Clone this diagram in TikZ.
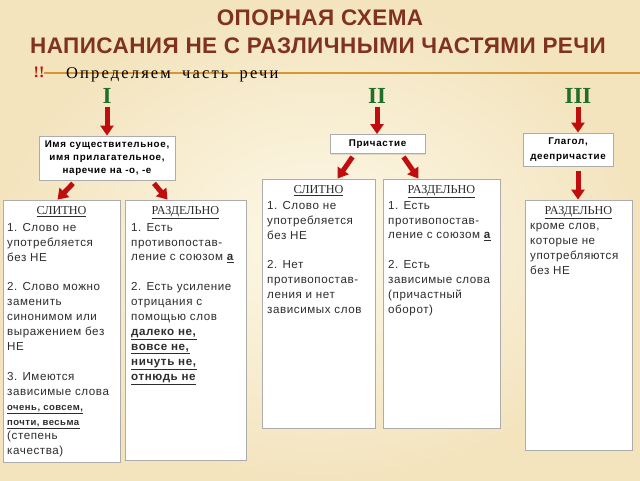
\documentclass[tikz,border=0pt]{standalone}
\usepackage{fontspec}
\setmainfont{Liberation Serif}
\setsansfont{Liberation Sans}
\newfontfamily\bodyfont[LetterSpace=5]{Liberation Sans}
\newfontfamily\boxfont[LetterSpace=7]{Liberation Sans}
\newfontfamily\titlefont[LetterSpace=2]{Liberation Sans}
\newfontfamily\taskfont[LetterSpace=13,WordSpace=1.8]{Liberation Serif}
\usetikzlibrary{arrows.meta,shadows}
\definecolor{bgin}{RGB}{253,248,232}
\definecolor{bgout}{RGB}{243,228,190}
\definecolor{titlecol}{RGB}{128,50,32}
\definecolor{romancol}{RGB}{32,110,40}
\definecolor{arrowcol}{RGB}{192,14,14}
\definecolor{rulecol}{RGB}{214,150,50}
\definecolor{textcol}{RGB}{45,45,45}
\newcommand\KeyWord[1]{\underline{\textbf{#1}}}

\begin{document}
\begin{tikzpicture}[x=1pt,y=-1pt,
  card/.style={draw=gray!65,fill=white,line width=0.8pt,inner sep=0pt,
    drop shadow={opacity=0.2,shadow xshift=1.2pt,shadow yshift=-1.2pt}},
  cardhead/.style={font=\fontsize{12.2}{13}\selectfont,text=textcol,inner sep=0pt,anchor=north},
  cardbody/.style={font=\bodyfont\fontsize{11.6}{14.9}\selectfont,text=textcol,align=left,inner sep=0pt,anchor=north west},
  partbox/.style={card,font=\boxfont\bfseries\fontsize{9.8}{13}\selectfont,align=center},
  roman/.style={font=\bfseries\fontsize{23}{23}\selectfont,text=romancol,inner sep=0pt},
  redarrow/.style={draw=arrowcol,line width=5pt,-{Triangle[width=13pt,length=10pt]}}]
% Drawing background
\shade[inner color=bgin,outer color=bgout] (0,0) rectangle (640,480);
\useasboundingbox (0,0) rectangle (640,480);
\draw[rulecol,line width=1.1pt] (44,73) -- (640,73);
% Title
\node[font=\titlefont\bfseries\fontsize{22.5}{22.5}\selectfont,text=titlecol] (title1) at (320,18) {ОПОРНАЯ СХЕМА};
\node[font=\titlefont\bfseries\fontsize{22.5}{22.5}\selectfont,text=titlecol] (title2) at (318,46) {НАПИСАНИЯ НЕ С РАЗЛИЧНЫМИ ЧАСТЯМИ РЕЧИ};
\node[font=\bfseries\fontsize{16}{16}\selectfont,text=arrowcol,inner sep=0pt] (mark) at (39,72) {!!};
\node[font=\taskfont\fontsize{16.5}{16.5}\selectfont,anchor=base west,inner sep=0pt] (task) at (66,78) {Определяем часть речи};
% Done with title; drawing part-of-speech groups
\node[roman] (n1) at (107,96) {I};
\node[roman] (n2) at (377,96) {II};
\node[roman] (n3) at (578,96) {III};
\node[partbox,minimum width=136pt,minimum height=44pt] (a1) at (107,158)
  {Имя существительное,\\имя прилагательное,\\наречие на -о, -е};
\node[partbox,minimum width=95pt,minimum height=19pt] (b1) at (377.5,144) {Причастие};
\node[partbox,minimum width=90pt,minimum height=33pt] (c1) at (568,149.5) {Глагол,\\[2pt]деепричастие};
% Group I
\node[card,minimum width=117pt,minimum height=262pt] (a2) at (61.5,331) {};
\node[cardhead] (a2h) at (61.5,206) {\underline{СЛИТНО}};
\node[cardbody] (a2t) at (7,223) {1. Слово не\\употребляется\\без НЕ\\[14.9pt]2. Слово можно\\заменить\\синонимом или\\выражением без\\НЕ\\[14.9pt]3. Имеются\\зависимые слова\\{\fontsize{9.5}{13.5}\selectfont\KeyWord{очень, совсем,}}\\{\fontsize{9.5}{13.5}\selectfont\KeyWord{почти, весьма}}\\(степень\\качества)};
\node[card,minimum width=121pt,minimum height=260pt] (a3) at (185.5,330) {};
\node[cardhead] (a3h) at (185.5,206) {\underline{РАЗДЕЛЬНО}};
\node[cardbody] (a3t) at (131,223) {1. Есть\\противопостав-\\ление с союзом \KeyWord{а}\\[14.9pt]2. Есть усиление\\отрицания с\\помощью слов\\\KeyWord{далеко не,}\\\KeyWord{вовсе не,}\\\KeyWord{ничуть не,}\\\KeyWord{отнюдь не}};
% Group II
\node[card,minimum width=113pt,minimum height=249pt] (b2) at (318.5,303.5) {};
\node[cardhead] (b2h) at (318.5,185) {\underline{СЛИТНО}};
\node[cardbody] (b2t) at (267,201) {1. Слово не\\употребляется\\без НЕ\\[14.9pt]2. Нет\\противопостав-\\ления и нет\\зависимых слов};
\node[card,minimum width=117pt,minimum height=249pt] (b3) at (441.5,303.5) {};
\node[cardhead] (b3h) at (441.5,185) {\underline{РАЗДЕЛЬНО}};
\node[cardbody] (b3t) at (388,201) {1. Есть\\противопостав-\\ление с союзом \KeyWord{а}\\[14.9pt]2. Есть\\зависимые слова\\(причастный\\оборот)};
% Group III
\node[card,minimum width=107pt,minimum height=250pt] (c2) at (578.5,325) {};
\node[cardhead] (c2h) at (578.5,206) {\underline{РАЗДЕЛЬНО}};
\node[cardbody] (c2t) at (530,223) {кроме слов,\\которые не\\употребляются\\без НЕ};
% Done with cards; drawing arrows
\draw[redarrow] ([yshift=-3pt]n1.south) -- (n1.south |- a1.north);
\draw[redarrow] ([yshift=-3pt]n2.south) -- (n2.south |- b1.north);
\draw[redarrow] ([yshift=-3pt]n3.south) -- (n3.south |- c1.north);
\draw[redarrow] ([xshift=-34pt,yshift=-3pt]a1.south) -- ([xshift=-4pt]a2.north);
\draw[redarrow] ([xshift=47pt,yshift=-3pt]a1.south) -- ([xshift=-18pt]a3.north);
\draw[redarrow] ([xshift=-25pt,yshift=-3pt]b1.south) -- ([xshift=19pt]b2.north);
\draw[redarrow] ([xshift=26pt,yshift=-3pt]b1.south) -- ([xshift=-23pt]b3.north);
\draw[redarrow] ([yshift=-5pt]n3.south |- c1.south) -- (n3.south |- c2.north);
% Done with arrows
\end{tikzpicture}
\end{document}
